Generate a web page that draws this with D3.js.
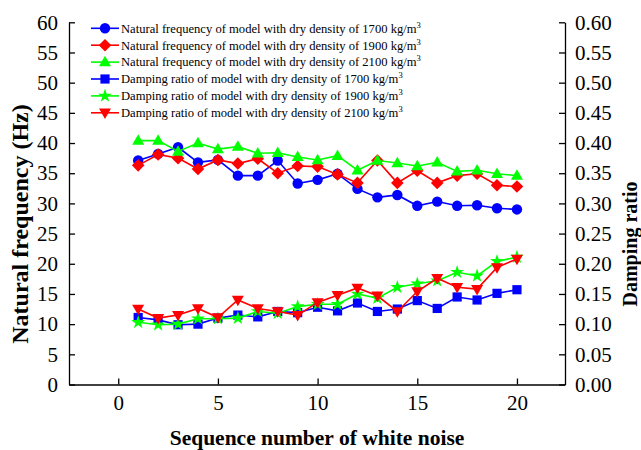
<!DOCTYPE html>
<html>
<head>
<meta charset="utf-8">
<script src="https://cdn.jsdelivr.net/npm/d3@7"></script>
<style>
  body { margin: 0; background: #fff; }
  svg text { font-family: "Liberation Serif", "Times New Roman", serif; fill: #000; }
</style>
</head>
<body>
<svg id="chart" width="641" height="450"></svg>
<script>
// data
var seqNo = [1, 2, 3, 4, 5, 6, 7, 8, 9, 10, 11, 12, 13, 14, 15, 16, 17, 18, 19, 20];
var nf1700 = [37.1, 38.2, 39.3, 36.8, 37.2, 34.6, 34.6, 37.1, 33.3, 33.9, 34.9, 32.4, 31.0, 31.4, 29.6, 30.3, 29.6, 29.7, 29.2, 29.0];
var nf1900 = [36.3, 38.1, 37.5, 35.7, 37.2, 36.6, 37.4, 35.0, 36.2, 36.1, 34.8, 33.4, 37.1, 33.4, 35.4, 33.4, 34.6, 34.9, 33.0, 32.8];
var nf2100 = [40.4, 40.4, 38.6, 40.0, 39.0, 39.4, 38.3, 38.4, 37.7, 37.2, 37.9, 35.5, 37.1, 36.7, 36.2, 36.8, 35.3, 35.5, 34.9, 34.6];
var dr1700 = [0.111, 0.107, 0.099, 0.100, 0.110, 0.115, 0.112, 0.121, 0.119, 0.128, 0.122, 0.135, 0.121, 0.125, 0.139, 0.126, 0.145, 0.140, 0.151, 0.157];
var dr1900 = [0.103, 0.099, 0.100, 0.109, 0.109, 0.110, 0.121, 0.118, 0.129, 0.133, 0.133, 0.150, 0.143, 0.161, 0.167, 0.172, 0.186, 0.180, 0.204, 0.211];
var dr2100 = [0.125, 0.110, 0.115, 0.126, 0.111, 0.140, 0.126, 0.121, 0.115, 0.136, 0.148, 0.160, 0.147, 0.121, 0.154, 0.176, 0.161, 0.158, 0.194, 0.208];

var xTicks = [0, 5, 10, 15, 20];
var yTicks = [0, 5, 10, 15, 20, 25, 30, 35, 40, 45, 50, 55, 60];
var y2Ticks = [0, 0.05, 0.10, 0.15, 0.20, 0.25, 0.30, 0.35, 0.40, 0.45, 0.50, 0.55, 0.60];

var series = [
    {name: "Natural frequency of model with dry density of 1700 kg/m", vals: nf1700, axis: "left", color: "#0000ff", shape: "circle"},
    {name: "Natural frequency of model with dry density of 1900 kg/m", vals: nf1900, axis: "left", color: "#ff0000", shape: "diamond"},
    {name: "Natural frequency of model with dry density of 2100 kg/m", vals: nf2100, axis: "left", color: "#00ff00", shape: "triUp"},
    {name: "Damping ratio of model with dry density of 1700 kg/m", vals: dr1700, axis: "right", color: "#0000ff", shape: "square"},
    {name: "Damping ratio of model with dry density of 1900 kg/m", vals: dr1900, axis: "right", color: "#00ff00", shape: "star"},
    {name: "Damping ratio of model with dry density of 2100 kg/m", vals: dr2100, axis: "right", color: "#ff0000", shape: "triDown"}
];

var svg = d3.select("#chart");

// plot area
var plotLeft = 69, plotRight = 565, plotTop = 22.3, plotBottom = 384.5;

var x = d3.scaleLinear().domain([-2.47, 22.41]).range([plotLeft, plotRight]);
var y = d3.scaleLinear().domain([0, 60]).range([plotBottom, plotTop]);
var y2 = d3.scaleLinear().domain([0, 0.6]).range([plotBottom, plotTop]);

// marker paths
function markerPath(shape) {
    if (shape == "circle") return d3.symbol(d3.symbolCircle, 85)();
    if (shape == "square") return "M-4.6,-4.6H4.6V4.6H-4.6Z";
    if (shape == "diamond") return "M0,-6.3L6.3,0L0,6.3L-6.3,0Z";
    if (shape == "triUp") return "M0,-6.3L6,4.2L-6,4.2Z";
    if (shape == "triDown") return "M0,6.3L6,-4.2L-6,-4.2Z";
    if (shape == "star") return d3.symbol(d3.symbolStar, 60)();
}

// axes
var axisStyle = function(g) {
    g.select(".domain").attr("stroke", "#000").attr("stroke-width", 1.3);
    g.selectAll(".tick line").attr("stroke", "#000").attr("stroke-width", 1.3);
    g.selectAll(".tick text").style("font-size", "21px");
};

svg.append("g")
    .attr("transform", "translate(0," + plotBottom + ")")
    .call(d3.axisBottom(x).tickValues(xTicks).tickSizeInner(-6).tickSizeOuter(0).tickPadding(11))
    .call(axisStyle);

svg.append("g")
    .attr("transform", "translate(" + plotLeft + ",0)")
    .call(d3.axisLeft(y).tickValues(yTicks).tickSizeInner(-6).tickSizeOuter(0).tickPadding(11))
    .call(axisStyle);

svg.append("g")
    .attr("transform", "translate(" + plotRight + ",0)")
    .call(d3.axisRight(y2).tickValues(y2Ticks).tickFormat(d3.format(".2f")).tickSizeInner(-6).tickSizeOuter(0).tickPadding(10))
    .call(axisStyle);

// axis titles
svg.append("text")
    .attr("transform", "translate(28,224) rotate(-90)")
    .attr("text-anchor", "middle")
    .style("font-size", "24px")
    .style("font-weight", "bold")
    .text("Natural frequency (Hz)");

svg.append("text")
    .attr("transform", "translate(637,244) rotate(-90)")
    .attr("text-anchor", "middle")
    .style("font-size", "20px")
    .style("font-weight", "bold")
    .text("Damping ratio");

svg.append("text")
    .attr("x", 317)
    .attr("y", 445)
    .attr("text-anchor", "middle")
    .style("font-size", "21.5px")
    .style("font-weight", "bold")
    .text("Sequence number of white noise");

// lines and markers
series.forEach(function(s) {
    var ys = s.axis == "left" ? y : y2;
    var line = d3.line()
        .x((d, i) => x(seqNo[i]))
        .y(d => ys(d));
    var g = svg.append("g");
    g.append("path")
        .datum(s.vals)
        .attr("d", line)
        .attr("fill", "none")
        .attr("stroke", s.color)
        .attr("stroke-width", 1.6);
    g.selectAll("path.pt")
        .data(s.vals)
        .enter().append("path")
        .attr("class", "pt")
        .attr("transform", (d, i) => "translate(" + x(seqNo[i]) + "," + ys(d) + ")")
        .attr("d", markerPath(s.shape))
        .attr("fill", s.color);
});

// legend
var legend = svg.append("g").attr("transform", "translate(91,28.3)");
series.forEach(function(s, i) {
    var row = legend.append("g").attr("transform", "translate(0," + (i * 16.9) + ")");
    row.append("line")
        .attr("x1", 0).attr("x2", 28)
        .attr("stroke", s.color).attr("stroke-width", 1.6);
    row.append("path")
        .attr("transform", "translate(14,0)")
        .attr("d", markerPath(s.shape))
        .attr("fill", s.color);
    var t = row.append("text")
        .attr("x", 30)
        .attr("y", 4.3)
        .style("font-size", "12.6px");
    t.append("tspan").text(s.name);
    t.append("tspan").attr("dy", -5).style("font-size", "8.5px").text("3");
});
</script>
</body>
</html>
